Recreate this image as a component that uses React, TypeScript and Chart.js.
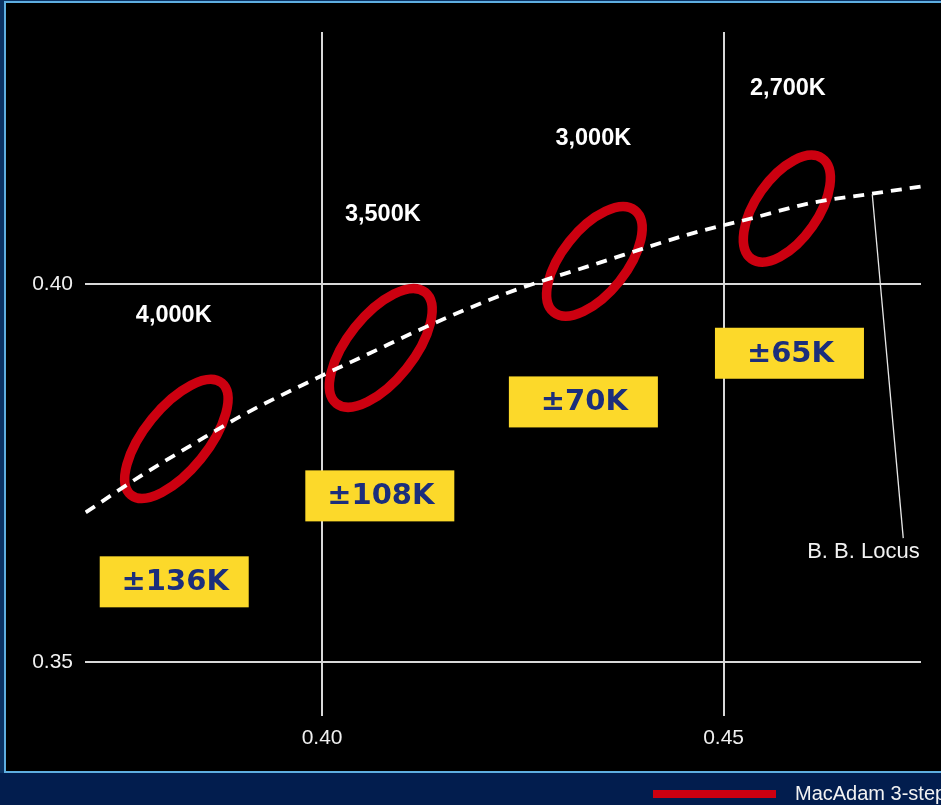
import React, { useEffect, useRef } from 'react';
import { Chart, registerables } from 'chart.js';

Chart.register(...registerables);

// ---- axis ticks ----
const xTickValues = [0.4, 0.45];
const yTickValues = [0.35, 0.4];

// ---- black-body (Planckian) locus ----
const locusX = [0.37057, 0.37729, 0.38414, 0.39016, 0.39888, 0.40594, 0.413, 0.42297, 0.43459, 0.44621, 0.45328, 0.46075, 0.46822, 0.47458];
const locusY = [0.36979, 0.37454, 0.37896, 0.38271, 0.38735, 0.39088, 0.39441, 0.39883, 0.40289, 0.4068, 0.4087, 0.41076, 0.41199, 0.41298];

// ---- MacAdam 3-step ellipses ----
const cctLabels = ['4,000K', '3,500K', '3,000K', '2,700K'];
const ellipseCx = [0.38186, 0.40731, 0.43391, 0.45788];
const ellipseCy = [0.37953, 0.39159, 0.40305, 0.41004];
const ellipseSemiMajor = [0.00898, 0.00886, 0.00811, 0.00765];
const ellipseSemiMinor = [0.00394, 0.00411, 0.00399, 0.00388];
const ellipseAngleDeg = [51, 51.4, 51.4, 55];
const toleranceLabels = ['±136K', '±108K', '±70K', '±65K'];

// ---- annotation anchors (data coordinates) ----
const cctLabelX = [0.38153, 0.40756, 0.43378, 0.45801];
const cctLabelY = [0.39586, 0.40924, 0.41938, 0.426];
const toleranceX = [0.38159, 0.40719, 0.43254, 0.4582];
const toleranceY = [0.36059, 0.37198, 0.38443, 0.39088];
const locusLabel = 'B. B. Locus';
const locusLeaderX = [0.46851, 0.47237];
const locusLeaderY = [0.41195, 0.36638];
const locusLabelPos = [0.46741, 0.36449];
const legendLabel = 'MacAdam 3-step';

const RED = '#cc0010';

const backgroundPlugin = {
  id: 'frameBg',
  beforeDraw(chart: any) {
    const { ctx, width, height } = chart;
    ctx.save();
    ctx.fillStyle = '#021d4e';
    ctx.fillRect(0, 0, width, height);
    ctx.fillStyle = '#0b3263';
    ctx.fillRect(0, 0, 5, 773);
    ctx.fillRect(0, 0, width, 2);
    ctx.fillStyle = '#000000';
    ctx.fillRect(5, 2, width, 770);
    ctx.strokeStyle = '#5eaee0';
    ctx.lineWidth = 2;
    ctx.strokeRect(5, 2, width + 20, 770);
    ctx.restore();
  },
};

const ellipsePlugin = {
  id: 'macadamEllipses',
  beforeDatasetsDraw(chart: any) {
    const { ctx } = chart;
    const xs = chart.scales.x;
    const ys = chart.scales.y;
    ctx.save();
    ctx.strokeStyle = RED;
    ctx.lineWidth = 9.5;
    for (let i = 0; i < ellipseCx.length; i++) {
      const px = xs.getPixelForValue(ellipseCx[i]);
      const py = ys.getPixelForValue(ellipseCy[i]);
      const aPx = xs.getPixelForValue(ellipseCx[i] + ellipseSemiMajor[i]) - px;
      const bPx = xs.getPixelForValue(ellipseCx[i] + ellipseSemiMinor[i]) - px;
      ctx.beginPath();
      ctx.ellipse(px, py, aPx, bPx, (-ellipseAngleDeg[i] * Math.PI) / 180, 0, Math.PI * 2);
      ctx.stroke();
    }
    ctx.restore();
  },
};

const annotationPlugin = {
  id: 'annotations',
  afterDraw(chart: any) {
    const { ctx } = chart;
    const xs = chart.scales.x;
    const ys = chart.scales.y;
    ctx.save();
    // CCT labels
    ctx.fillStyle = '#ffffff';
    ctx.font = 'bold 23.5px "Liberation Sans", Arial, sans-serif';
    ctx.textAlign = 'center';
    ctx.textBaseline = 'middle';
    for (let i = 0; i < cctLabels.length; i++) {
      ctx.fillText(cctLabels[i], xs.getPixelForValue(cctLabelX[i]), ys.getPixelForValue(cctLabelY[i]));
    }
    // tolerance boxes
    const bw = 149;
    const bh = 51;
    for (let i = 0; i < toleranceLabels.length; i++) {
      const cx = xs.getPixelForValue(toleranceX[i]);
      const cy = ys.getPixelForValue(toleranceY[i]);
      ctx.fillStyle = '#fcd92a';
      ctx.fillRect(cx - bw / 2, cy - bh / 2, bw, bh);
      ctx.fillStyle = '#1b2e7c';
      ctx.font = 'bold 29px "DejaVu Sans", sans-serif';
      ctx.fillText(toleranceLabels[i], cx + 1, cy + 1);
    }
    // B. B. Locus leader
    ctx.strokeStyle = '#e8e8e8';
    ctx.lineWidth = 1.3;
    ctx.beginPath();
    ctx.moveTo(xs.getPixelForValue(locusLeaderX[0]), ys.getPixelForValue(locusLeaderY[0]));
    ctx.lineTo(xs.getPixelForValue(locusLeaderX[1]), ys.getPixelForValue(locusLeaderY[1]));
    ctx.stroke();
    ctx.fillStyle = '#f2f2f2';
    ctx.font = '22px "Liberation Sans", Arial, sans-serif';
    ctx.fillText(locusLabel, xs.getPixelForValue(locusLabelPos[0]), ys.getPixelForValue(locusLabelPos[1]));
    // legend
    ctx.fillStyle = RED;
    ctx.fillRect(653, 790, 123, 8);
    ctx.fillStyle = '#f2f2f2';
    ctx.font = '20px "Liberation Sans", Arial, sans-serif';
    ctx.textAlign = 'left';
    ctx.fillText(legendLabel, 795, 794);
    ctx.restore();
  },
};

export default function App() {
  const ref = useRef<HTMLCanvasElement>(null);
  useEffect(() => {
    const canvas = ref.current;
    if (!canvas) return;
    const chart = new Chart(canvas, {
      type: 'scatter',
      data: {
        datasets: [
          {
            label: 'B. B. Locus',
            data: locusX.map((x, i) => ({ x, y: locusY[i] })),
            showLine: true,
            borderColor: '#ffffff',
            borderWidth: 3.8,
            borderDash: [11, 8],
            pointRadius: 0,
            cubicInterpolationMode: 'monotone',
            fill: false,
          } as any,
        ],
      },
      options: {
        responsive: false,
        animation: false,
        devicePixelRatio: 1,
        layout: { padding: { left: 0, top: 32, right: 20, bottom: 0 } },
        plugins: { legend: { display: false }, tooltip: { enabled: false } },
        scales: {
          x: {
            type: 'linear',
            min: 0.37048,
            max: 0.47458,
            afterBuildTicks: (scale: any) => {
              scale.ticks = xTickValues.map((v) => ({ value: v }));
            },
            afterFit: (scale: any) => {
              scale.height = 89;
            },
            ticks: {
              autoSkip: false,
              maxRotation: 0,
              padding: 10,
              color: '#f0f0f0',
              font: { family: '"Liberation Sans", Arial, sans-serif', size: 21 },
              callback: (v: any) => Number(v).toFixed(2),
            },
            grid: { color: '#d8d8d8', lineWidth: 2, drawTicks: false },
            border: { display: false },
          },
          y: {
            type: 'linear',
            min: 0.34281,
            max: 0.43345,
            afterBuildTicks: (scale: any) => {
              scale.ticks = yTickValues.map((v) => ({ value: v }));
            },
            afterFit: (scale: any) => {
              scale.width = 85;
            },
            ticks: {
              autoSkip: false,
              padding: 12,
              color: '#f0f0f0',
              font: { family: '"Liberation Sans", Arial, sans-serif', size: 21 },
              callback: (v: any) => Number(v).toFixed(2),
            },
            grid: { color: '#d8d8d8', lineWidth: 2, drawTicks: false },
            border: { display: false },
          },
        },
      } as any,
      plugins: [backgroundPlugin, ellipsePlugin, annotationPlugin],
    });
    return () => chart.destroy();
  }, []);
  return (
    <div style={{ position: 'absolute', left: 0, top: 0, width: 941, height: 805 }}>
      <canvas ref={ref} width={941} height={805} style={{ display: 'block', width: 941, height: 805 }} />
    </div>
  );
}
